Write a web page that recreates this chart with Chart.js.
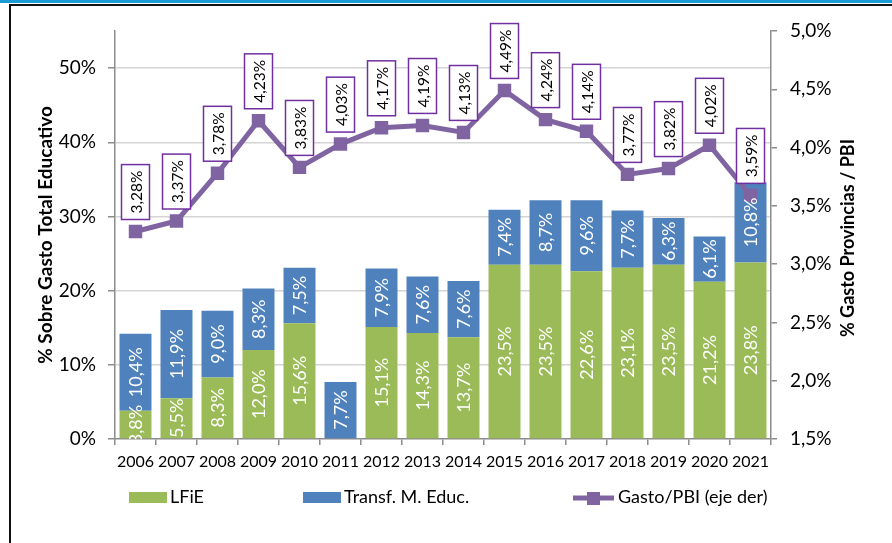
<!DOCTYPE html>
<html>
<head>
<meta charset="utf-8">
<script src="https://cdn.jsdelivr.net/npm/chart.js@4.4.0/dist/chart.umd.min.js"></script>
<style>
	html, body { margin: 0; padding: 0; background: #fff; }
	#wrap { position: relative; width: 892px; height: 543px; overflow: hidden; }
	#topline { position: absolute; left: 0; top: 0; width: 892px; height: 3px; background: #1b9ad6; }
	#frame { position: absolute; left: 9px; top: 4px; width: 900px; height: 560px; border-top: 2px solid #111; border-left: 2px solid #111; }
	canvas { position: absolute; left: 0; top: 0; }
</style>
</head>
<body>
<div id="wrap">
	<div id="topline"></div>
	<div id="frame"></div>
	<canvas id="chart" width="892" height="543"></canvas>
</div>
<script>
"use strict";
// data
var years = ["2006", "2007", "2008", "2009", "2010", "2011", "2012", "2013", "2014", "2015", "2016", "2017", "2018", "2019", "2020", "2021"];
var lfie = [3.8, 5.5, 8.3, 12.0, 15.6, null, 15.1, 14.3, 13.7, 23.5, 23.5, 22.6, 23.1, 23.5, 21.2, 23.8];
var transf = [10.4, 11.9, 9.0, 8.3, 7.5, 7.7, 7.9, 7.6, 7.6, 7.4, 8.7, 9.6, 7.7, 6.3, 6.1, 10.8];
var gastoPbi = [3.28, 3.37, 3.78, 4.23, 3.83, 4.03, 4.17, 4.19, 4.13, 4.49, 4.24, 4.14, 3.77, 3.82, 4.02, 3.59];
var seriesNames = ["LFiE", "Transf. M. Educ.", "Gasto/PBI (eje der)"];
var leftTitle = "% Sobre Gasto Total Educativo";
var rightTitle = "% Gasto Provincias / PBI";

var GREEN = "#9bbb59", BLUE = "#4f81bd", PURPLE = "#8064a2", BOX = "#7030a0", AXIS = "#8c8c8c";

function pct(v, d) {
	return v.toFixed(d).replace(".", ",") + "%";
}

Chart.defaults.font.family = "Lato, 'Open Sans', sans-serif";
Chart.defaults.color = "#000";

// value labels, right axis title and legend
var decorations = {
	id: "decorations",
	afterDatasetsDraw: function (chart) {
		var ctx = chart.ctx, area = chart.chartArea;
		ctx.save();
		ctx.beginPath();
		ctx.rect(area.left, area.top, area.right - area.left, area.bottom - area.top);
		ctx.clip();
		ctx.font = "18px Lato";
		ctx.fillStyle = "#fff";
		ctx.textAlign = "center";
		ctx.textBaseline = "middle";
		[0, 1].forEach(function (di) {
			var ds = chart.data.datasets[di];
			chart.getDatasetMeta(di).data.forEach(function (bar, i) {
				var v = ds.data[i];
				if (v === null || v === undefined) return;
				ctx.save();
				ctx.translate(bar.x, (bar.y + bar.base) / 2);
				ctx.rotate(-Math.PI / 2);
				ctx.fillText(pct(v, 1), 0, 1);
				ctx.restore();
			});
		});
		ctx.restore();

		// boxed labels for the line
		ctx.save();
		ctx.font = "15.5px Lato";
		ctx.textAlign = "center";
		ctx.textBaseline = "middle";
		var lineDs = chart.data.datasets[2];
		chart.getDatasetMeta(2).data.forEach(function (pt, i) {
			var txt = pct(lineDs.data[i], 2);
			var w = ctx.measureText(txt).width;
			var h = w + 12;
			var bottom = pt.y - 12;
			ctx.fillStyle = "#fff";
			ctx.fillRect(pt.x - 14, bottom - h, 28, h);
			ctx.strokeStyle = BOX;
			ctx.lineWidth = 1.5;
			ctx.strokeRect(pt.x - 14, bottom - h, 28, h);
			ctx.save();
			ctx.translate(pt.x, bottom - h / 2);
			ctx.rotate(-Math.PI / 2);
			ctx.fillStyle = "#000";
			ctx.fillText(txt, 0, 1);
			ctx.restore();
		});
		ctx.restore();
	},
	afterDraw: function (chart) {
		var ctx = chart.ctx;
		ctx.save();
		// right axis title (reads bottom to top)
		ctx.font = "bold 18px Lato";
		ctx.fillStyle = "#000";
		ctx.textAlign = "center";
		ctx.textBaseline = "middle";
		ctx.translate(848, 238);
		ctx.rotate(-Math.PI / 2);
		ctx.fillText(rightTitle, 0, 0);
		ctx.restore();

		// legend
		ctx.save();
		ctx.font = "18px Lato";
		ctx.textBaseline = "middle";
		var ly = 497;
		ctx.fillStyle = GREEN;
		ctx.fillRect(129, ly - 5, 38, 11);
		ctx.fillStyle = BLUE;
		ctx.fillRect(303, ly - 5, 38, 11);
		ctx.strokeStyle = PURPLE;
		ctx.lineWidth = 5;
		ctx.beginPath();
		ctx.moveTo(573, ly + 1);
		ctx.lineTo(614, ly + 1);
		ctx.stroke();
		ctx.fillStyle = PURPLE;
		ctx.fillRect(587, ly - 5, 13, 13);
		ctx.fillStyle = "#000";
		ctx.fillText(seriesNames[0], 170, ly);
		ctx.fillText(seriesNames[1], 344, ly);
		ctx.fillText(seriesNames[2], 618, ly);
		ctx.restore();
	}
};

var ctx = document.getElementById("chart");
var chart = new Chart(ctx, {
	type: "bar",
	data: {
		labels: years,
		datasets: [{
			label: seriesNames[0],
			data: lfie,
			backgroundColor: GREEN,
			stack: "edu",
			yAxisID: "y",
			order: 1,
			barPercentage: 0.78,
			categoryPercentage: 1
		}, {
			label: seriesNames[1],
			data: transf,
			backgroundColor: BLUE,
			stack: "edu",
			yAxisID: "y",
			order: 1,
			barPercentage: 0.78,
			categoryPercentage: 1
		}, {
			type: "line",
			label: seriesNames[2],
			data: gastoPbi,
			yAxisID: "y1",
			order: 0,
			borderColor: PURPLE,
			backgroundColor: PURPLE,
			borderWidth: 5,
			pointStyle: "rect",
			pointRadius: 9.5,
			pointBorderWidth: 0,
			tension: 0
		}]
	},
	options: {
		responsive: false,
		animation: false,
		layout: {
			padding: { left: 12, top: 31, right: 0, bottom: 0 }
		},
		plugins: {
			legend: { display: false },
			tooltip: { enabled: false }
		},
		scales: {
			x: {
				stacked: true,
				offset: true,
				afterFit: function (scale) { scale.height = 104; },
				grid: {
					offset: true,
					drawOnChartArea: false,
					tickLength: 6,
					color: AXIS,
					lineWidth: 1.5
				},
				border: { color: AXIS, width: 1.5 },
				ticks: {
					font: { size: 16 },
					padding: 7,
					maxRotation: 0,
					autoSkip: false
				}
			},
			y: {
				stacked: true,
				position: "left",
				min: 0,
				max: 55,
				afterFit: function (scale) { scale.width = 103; },
				grid: {
					color: function (c) { return c.tick && c.tick.value === 0 ? "rgba(0,0,0,0)" : "#d4d4d4"; },
					lineWidth: 1.5,
					borderDash: [6, 4],
					tickColor: AXIS,
					tickBorderDash: [],
					tickLength: 7
				},
				border: { color: AXIS, width: 1.5 },
				ticks: {
					stepSize: 10,
					includeBounds: false,
					padding: 12,
					font: { size: 19 },
					callback: function (v) { return pct(v, 0); }
				},
				title: {
					display: true,
					text: leftTitle,
					font: { size: 19, weight: "bold" },
					padding: { top: 22, bottom: 0 }
				}
			},
			y1: {
				position: "right",
				min: 1.5,
				max: 5.0,
				afterFit: function (scale) { scale.width = 121; },
				grid: {
					drawOnChartArea: false,
					color: AXIS,
					tickLength: 6,
					lineWidth: 1.5
				},
				border: { color: AXIS, width: 1.5 },
				ticks: {
					stepSize: 0.5,
					padding: 13,
					font: { size: 19 },
					callback: function (v) { return pct(v, 1); }
				}
			}
		}
	},
	plugins: [decorations]
});
</script>
</body>
</html>
